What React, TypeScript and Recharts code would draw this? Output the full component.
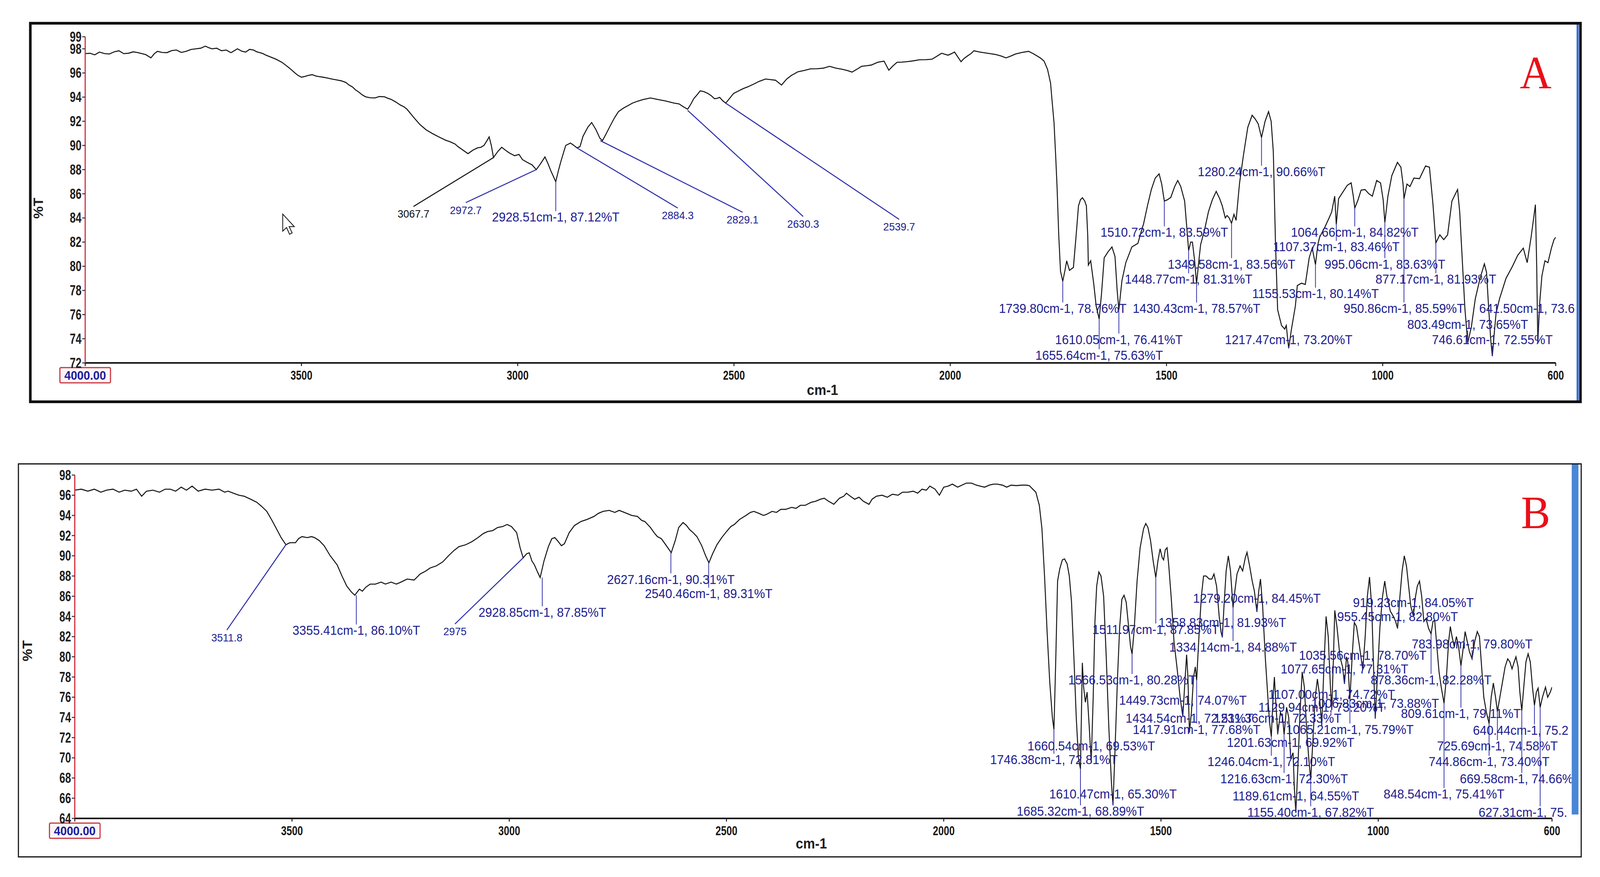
import React from 'react';
import { LineChart, Line, XAxis, YAxis, ReferenceLine, ReferenceDot } from 'recharts';

const SANS = "'Liberation Sans', Arial, Helvetica, sans-serif";
const SERIF = "'Liberation Serif', 'Times New Roman', serif";
const NAVY = '#202090';
const LEAD = '#2c2caa';

const xTicks = [4000, 3500, 3000, 2500, 2000, 1500, 1000, 600];
const yTicksA = [72, 74, 76, 78, 80, 82, 84, 86, 88, 90, 92, 94, 96, 98, 99];
const yTicksB = [64, 66, 68, 70, 72, 74, 76, 78, 80, 82, 84, 86, 88, 90, 92, 94, 96, 98];

// [wavenumber cm-1, %T]
const spectrumA: [number, number][] = [
  [4000, 97.6], [3989, 97.63], [3978, 97.5], [3967, 97.73], [3955, 97.6], [3944, 97.57], [3933, 97.75], [3922, 97.84], [3911, 97.6], [3900, 97.63],
  [3889, 97.75], [3878, 97.68], [3869, 97.6], [3860, 97.52], [3848, 97.25], [3840, 97.6], [3833, 97.79], [3822, 97.7], [3811, 97.68], [3800, 97.85],
  [3789, 97.9], [3778, 97.7], [3767, 97.79], [3755, 97.95], [3744, 98.0], [3733, 98.05], [3722, 98.22], [3715, 98.1], [3707, 98.0], [3696, 98.05],
  [3685, 97.84], [3674, 97.9], [3663, 97.68], [3655, 97.85], [3648, 98.0], [3638, 97.8], [3629, 97.73], [3620, 97.95], [3611, 97.9], [3603, 97.75],
  [3596, 97.68], [3589, 97.6], [3582, 97.47], [3570, 97.3], [3559, 97.14], [3545, 96.88], [3533, 96.55], [3522, 96.23], [3515, 96.0], [3508, 95.8],
  [3500, 95.65], [3493, 95.7], [3484, 95.8], [3475, 95.86], [3467, 95.75], [3460, 95.7], [3450, 95.65], [3441, 95.59], [3430, 95.5], [3419, 95.43],
  [3408, 95.35], [3397, 95.21], [3390, 95.0], [3382, 94.84], [3375, 94.6], [3367, 94.41], [3360, 94.2], [3352, 94.03], [3341, 93.95], [3330, 93.93],
  [3320, 94.05], [3308, 94.03], [3300, 93.9], [3293, 93.82], [3282, 93.6], [3271, 93.34], [3263, 93.2], [3256, 93.0], [3240, 92.3], [3226, 91.73],
  [3212, 91.3], [3197, 90.98], [3182, 90.7], [3167, 90.44], [3156, 90.3], [3145, 90.12], [3138, 89.9], [3130, 89.7], [3122, 89.5], [3115, 89.32],
  [3104, 89.6], [3093, 89.8], [3085, 89.85], [3078, 90.0], [3071, 90.4], [3066, 90.71], [3061, 90.0], [3056, 89.0], [3046, 89.5], [3037, 89.85],
  [3028, 89.6], [3019, 89.37], [3007, 89.15], [2997, 89.26], [2989, 88.83], [2978, 88.6], [2967, 88.4], [2957, 88.0], [2947, 88.5], [2937, 89.05],
  [2930, 88.5], [2923, 87.87], [2912, 87.0], [2906, 87.9], [2900, 88.7], [2889, 90.0], [2878, 90.2], [2870, 90.0], [2863, 89.8], [2856, 89.9],
  [2849, 90.76], [2838, 91.5], [2829, 91.9], [2819, 91.3], [2810, 90.6], [2804, 90.4], [2795, 91.0], [2785, 91.7], [2776, 92.3], [2767, 92.8],
  [2755, 93.1], [2745, 93.3], [2735, 93.5], [2723, 93.66], [2710, 93.8], [2693, 93.93], [2682, 93.85], [2671, 93.77], [2660, 93.7], [2649, 93.6],
  [2638, 93.5], [2627, 93.44], [2617, 93.2], [2607, 93.0], [2600, 93.4], [2593, 93.87], [2585, 94.2], [2578, 94.52], [2569, 94.45], [2560, 94.3],
  [2552, 94.1], [2545, 93.87], [2539, 93.9], [2533, 93.98], [2526, 93.7], [2519, 93.5], [2510, 93.9], [2501, 94.3], [2490, 94.5], [2479, 94.7],
  [2468, 94.85], [2456, 95.05], [2442, 95.3], [2427, 95.5], [2416, 95.45], [2404, 95.4], [2397, 95.2], [2390, 95.0], [2378, 95.5], [2367, 95.8],
  [2352, 96.1], [2338, 96.2], [2323, 96.34], [2308, 96.35], [2293, 96.4], [2279, 96.55], [2264, 96.4], [2249, 96.3], [2238, 96.2], [2227, 96.07],
  [2216, 96.3], [2205, 96.55], [2193, 96.6], [2182, 96.66], [2168, 96.88], [2153, 96.98], [2142, 96.23], [2132, 96.6], [2123, 96.88], [2112, 96.9],
  [2101, 96.93], [2086, 97.0], [2071, 97.09], [2056, 97.1], [2042, 97.14], [2030, 97.4], [2020, 97.63], [2005, 97.47], [1997, 97.6], [1990, 97.73],
  [1982, 97.3], [1975, 96.93], [1968, 97.2], [1960, 97.41], [1952, 97.6], [1945, 97.84], [1934, 97.75], [1923, 97.68], [1908, 97.6], [1894, 97.52],
  [1882, 97.4], [1871, 97.25], [1860, 97.4], [1849, 97.57], [1834, 97.7], [1819, 97.79], [1808, 97.6], [1797, 97.36], [1790, 97.2], [1783, 96.98],
  [1775, 96.3], [1768, 95.16], [1764, 93.5], [1760, 91.9], [1756, 89.0], [1753, 86.6], [1749, 82.5], [1745, 79.6], [1739.8, 78.76], [1735, 79.6],
  [1730.7, 80.45], [1724.3, 79.66], [1719, 79.8], [1715.2, 79.9], [1709, 82.5], [1703.4, 85.0], [1699, 85.5], [1694.3, 85.67], [1689, 85.4], [1685.2, 85.0],
  [1682, 82.5], [1680.6, 80.1], [1675.2, 80.45], [1668, 78.5], [1662.5, 76.7], [1655.64, 75.63], [1650, 77.8], [1644, 80.7], [1635, 81.2], [1626, 81.6],
  [1619, 80.8], [1614, 78.0], [1610.05, 76.41], [1603, 78.8], [1594, 80.3], [1580, 81.6], [1566, 81.9], [1559, 82.8], [1553, 83.5], [1544, 85.0],
  [1535, 86.35], [1526, 87.3], [1517, 87.65], [1511, 86.8], [1505, 85.4], [1498, 85.5], [1490, 85.7], [1481, 86.6], [1474, 87.1], [1467, 86.6],
  [1458, 85.4], [1453, 83.2], [1448.77, 81.31], [1444, 82.0], [1440, 82.0], [1435, 80.5], [1430.43, 78.57], [1425, 80.5], [1421, 81.8], [1412, 83.0],
  [1403, 84.5], [1394, 85.5], [1385, 86.2], [1377, 85.6], [1371, 85.0], [1364, 84.0], [1360, 84.2], [1355, 84.0], [1349.58, 83.56], [1344, 84.3],
  [1339, 83.8], [1331, 86.9], [1322, 89.2], [1312, 91.5], [1302, 92.5], [1295, 92.2], [1288, 91.8], [1280.24, 90.66], [1272, 92.0], [1264, 92.8],
  [1258, 92.0], [1253, 89.5], [1248, 82.0], [1243, 76.4], [1234, 75.1], [1226.6, 74.8], [1223, 75.1], [1217.47, 73.2], [1211, 74.8], [1202, 76.7],
  [1197.5, 78.4], [1188, 78.6], [1179, 78.5], [1170, 80.7], [1163, 81.5], [1155.53, 80.14], [1150, 81.8], [1146, 82.4], [1133, 83.3], [1124, 84.0],
  [1118, 84.5], [1111, 85.8], [1107.37, 83.46], [1102, 85.6], [1091, 86.2], [1082, 86.7], [1073, 86.9], [1068, 85.8], [1064.66, 84.82], [1058, 85.4],
  [1050, 86.3], [1041, 86.35], [1032, 86.0], [1024, 85.8], [1014, 87.1], [1005, 86.9], [999, 85.5], [995.06, 83.63], [988, 85.8], [979, 87.5],
  [966, 88.6], [958, 88.2], [953, 86.8], [950.86, 85.59], [944, 86.8], [937, 86.6], [928, 87.3], [915, 87.25], [901, 88.3], [892, 88.2],
  [884, 85.2], [877.17, 81.93], [868, 82.6], [859, 82.2], [850, 82.6], [840, 85.4], [827, 86.35], [822, 84.5], [818, 81.8], [810, 76.5],
  [803.49, 73.65], [795, 75.0], [786, 77.3], [775, 79.0], [765, 80.2], [760, 79.5], [755, 76.5], [750, 73.8], [746.61, 72.55], [742, 74.5],
  [738, 76.1], [730, 77.3], [715, 79.0], [700, 80.0], [688, 80.9], [675, 81.5], [666, 80.3], [657, 82.4], [651, 84.0], [647, 85.1],
  [644, 80.0], [641.5, 73.6], [637, 77.0], [632, 79.2], [625, 80.45], [618, 80.3], [610, 81.5], [604, 82.2], [600, 82.4],
];

// [wavenumber cm-1, %T]
const spectrumB: [number, number][] = [
  [4000, 96.5], [3985, 96.6], [3970, 96.4], [3955, 96.6], [3940, 96.3], [3927, 96.5], [3912, 96.6], [3898, 96.3], [3885, 96.5], [3870, 96.4],
  [3858, 96.6], [3846, 95.9], [3835, 96.4], [3820, 96.5], [3805, 96.3], [3792, 96.6], [3780, 96.6], [3768, 96.4], [3755, 96.8], [3743, 96.5],
  [3730, 96.9], [3716, 96.4], [3700, 96.6], [3684, 96.5], [3668, 96.6], [3655, 96.3], [3647, 96.4], [3635, 96.2], [3622, 96.0], [3610, 95.9],
  [3595, 95.6], [3581, 95.3], [3570, 94.9], [3558, 94.4], [3546, 93.5], [3536, 92.7], [3525, 91.8], [3514, 91.1], [3505, 91.3], [3492, 91.3],
  [3485, 91.7], [3477, 91.9], [3465, 91.8], [3455, 91.9], [3448, 91.8], [3437, 91.5], [3426, 91.0], [3412, 90.0], [3396, 89.1], [3385, 88.0],
  [3374, 87.0], [3363, 86.4], [3355.4, 86.1], [3345, 86.7], [3338, 86.5], [3330, 86.9], [3320, 87.2], [3308, 87.2], [3295, 87.4], [3285, 87.2],
  [3272, 87.4], [3260, 87.2], [3249, 87.4], [3235, 87.7], [3219, 87.6], [3205, 88.2], [3192, 88.5], [3182, 88.8], [3168, 89.0], [3153, 89.4],
  [3140, 90.0], [3128, 90.5], [3116, 90.9], [3100, 91.1], [3086, 91.4], [3072, 91.8], [3060, 92.2], [3050, 92.4], [3038, 92.5], [3027, 92.8],
  [3015, 92.9], [3005, 93.1], [2995, 92.9], [2983, 92.3], [2975, 90.8], [2968, 89.8], [2960, 90.2], [2954, 90.3], [2948, 89.5], [2942, 89.1],
  [2935, 88.4], [2928.85, 87.85], [2920, 89.5], [2910, 90.9], [2902, 91.7], [2895, 91.8], [2887, 91.4], [2880, 91.0], [2873, 91.2], [2862, 92.3],
  [2850, 93.0], [2835, 93.4], [2821, 93.6], [2805, 93.9], [2795, 94.2], [2784, 94.4], [2770, 94.5], [2757, 94.3], [2747, 94.5], [2735, 94.3],
  [2718, 94.0], [2705, 93.9], [2695, 93.5], [2688, 93.4], [2675, 92.8], [2665, 92.2], [2659, 91.9], [2650, 91.7], [2640, 91.1], [2627.2, 90.31],
  [2618, 91.5], [2610, 92.8], [2600, 93.3], [2592, 93.0], [2585, 92.6], [2577, 92.3], [2568, 91.9], [2557, 91.0], [2548, 90.0], [2540.5, 89.31],
  [2532, 90.2], [2522, 91.1], [2511, 91.8], [2500, 92.4], [2490, 92.9], [2482, 93.1], [2470, 93.6], [2455, 94.0], [2445, 94.3], [2437, 94.4],
  [2425, 94.2], [2415, 94.0], [2408, 94.1], [2395, 94.4], [2385, 94.3], [2375, 94.6], [2364, 94.6], [2350, 94.8], [2340, 94.7], [2330, 95.0],
  [2319, 95.0], [2305, 95.3], [2295, 95.4], [2284, 95.6], [2275, 95.7], [2265, 95.4], [2253, 95.1], [2240, 95.7], [2230, 95.9], [2224, 96.2],
  [2215, 95.9], [2205, 95.6], [2195, 95.8], [2185, 95.4], [2172, 95.1], [2165, 95.6], [2155, 95.9], [2142, 96.0], [2130, 95.8], [2118, 96.1],
  [2105, 96.0], [2095, 96.3], [2083, 96.3], [2070, 96.4], [2060, 96.2], [2050, 96.6], [2040, 96.5], [2032, 96.9], [2020, 96.6], [2010, 96.0],
  [2000, 96.8], [1990, 96.9], [1980, 97.1], [1968, 96.8], [1958, 97.0], [1948, 97.2], [1936, 97.2], [1925, 97.0], [1916, 96.9], [1906, 96.8],
  [1895, 97.0], [1885, 97.1], [1877, 97.1], [1865, 97.0], [1855, 96.8], [1845, 97.0], [1833, 96.95], [1820, 97.0], [1810, 97.0], [1803, 96.95],
  [1795, 96.6], [1788, 96.3], [1780, 95.0], [1774, 92.7], [1768, 88.0], [1762, 82.4], [1756, 77.5], [1750, 74.0], [1746.38, 72.81], [1742, 80.0],
  [1738, 87.5], [1733, 88.7], [1727, 89.6], [1722, 89.7], [1716, 89.2], [1711, 88.0], [1706, 85.5], [1700, 79.5], [1695, 74.0], [1690, 70.0],
  [1685.32, 68.89], [1683, 74.5], [1681, 79.4], [1678, 77.0], [1674, 75.5], [1670, 76.5], [1665, 73.0], [1660.54, 69.53], [1656, 76.0], [1652, 83.5],
  [1648, 87.0], [1643, 88.4], [1638, 88.0], [1632, 86.0], [1626, 80.0], [1620, 73.0], [1614, 67.5], [1610.47, 65.3], [1606, 70.5], [1600, 78.0],
  [1595, 83.0], [1590, 85.7], [1585, 86.1], [1580, 85.4], [1575, 83.2], [1570, 81.0], [1566.53, 80.28], [1562, 82.5], [1555, 87.5], [1548, 90.8],
  [1540, 92.7], [1535, 93.2], [1530, 92.8], [1524, 91.5], [1518, 89.5], [1511.97, 87.85], [1507, 89.5], [1502, 90.7], [1497, 89.8], [1494, 89.6],
  [1490, 90.6], [1486, 90.8], [1482, 89.0], [1476, 85.6], [1470, 81.5], [1463, 78.9], [1456, 76.0], [1449.73, 74.07], [1445, 77.5], [1441, 80.2],
  [1438, 78.0], [1434.54, 72.5], [1430, 74.5], [1425, 78.0], [1421, 79.0], [1417.91, 77.68], [1412, 82.5], [1407, 86.0], [1402, 88.0], [1396, 88.0],
  [1389, 87.7], [1383, 87.7], [1378, 88.2], [1372, 87.0], [1366, 84.0], [1362, 82.5], [1358.83, 81.93], [1355, 85.0], [1350, 88.5], [1345, 90.0],
  [1340, 88.5], [1336, 86.0], [1334.14, 84.88], [1330, 86.5], [1325, 88.2], [1318, 89.0], [1312, 88.5], [1306, 89.8], [1302, 90.35], [1296, 89.0],
  [1290, 87.5], [1285, 86.5], [1279.2, 84.45], [1275, 86.5], [1271, 87.7], [1266, 85.0], [1260, 80.0], [1254, 76.0], [1250, 73.5], [1246.04, 72.1],
  [1242, 76.0], [1239, 78.0], [1235, 75.0], [1231.36, 72.33], [1225, 74.5], [1220, 74.0], [1216.63, 72.3], [1211, 75.0], [1206, 74.0], [1201.63, 69.92],
  [1196, 70.5], [1193, 67.0], [1189.61, 64.55], [1185, 69.0], [1180, 74.5], [1175, 78.5], [1170, 77.0], [1165, 73.0], [1160, 70.0], [1155.4, 67.82],
  [1150, 72.0], [1145, 76.0], [1140, 77.8], [1136, 76.5], [1129.94, 73.2], [1125, 79.0], [1120, 84.0], [1115, 82.0], [1110, 77.0], [1107, 74.72],
  [1103, 80.0], [1100, 84.6], [1095, 83.0], [1088, 80.0], [1082, 79.0], [1077.65, 77.31], [1073, 80.0], [1070, 79.5], [1065.21, 75.79], [1060, 80.0],
  [1055, 83.4], [1050, 83.0], [1043, 81.0], [1035.56, 78.7], [1030, 82.0], [1025, 86.0], [1020, 87.9], [1015, 85.0], [1010, 78.0], [1006.83, 73.88],
  [1002, 78.0], [996, 83.0], [990, 86.0], [985, 87.5], [980, 86.0], [972, 84.5], [965, 84.0], [960, 83.5], [955.45, 82.8], [950, 86.0],
  [945, 88.5], [940, 90.0], [935, 89.0], [930, 87.0], [925, 85.0], [919.23, 84.05], [914, 86.0], [910, 87.0], [905, 87.5], [900, 86.0],
  [895, 83.5], [890, 83.8], [884, 82.8], [878.36, 82.28], [874, 83.5], [870, 83.6], [865, 81.0], [860, 78.5], [855, 77.0], [848.54, 75.41],
  [843, 78.0], [838, 81.5], [834, 83.0], [830, 82.0], [825, 81.0], [820, 82.0], [815, 81.0], [809.61, 79.11], [804, 81.0], [800, 82.5],
  [795, 81.5], [790, 80.5], [783.98, 79.8], [778, 81.5], [772, 82.5], [767, 82.0], [762, 79.0], [757, 76.0], [751, 74.5], [744.86, 73.4],
  [740, 76.0], [735, 77.4], [730, 76.0], [725.69, 74.58], [720, 76.0], [714, 77.5], [708, 79.0], [702, 79.8], [697, 79.5], [692, 78.8],
  [687, 79.5], [683, 80.0], [678, 79.0], [674, 76.5], [669.58, 74.66], [665, 77.0], [660, 79.5], [655, 80.3], [650, 79.5], [645, 77.0],
  [640.44, 75.2], [636, 76.5], [632, 76.9], [627.31, 75.0], [622, 76.0], [615, 77.0], [610, 76.0], [604, 76.5], [600, 77.0],
];

// vertical peak call-outs: [text, wavenumber, %T on curve, %T of label centre]
const calloutsA: [string, number, number, number][] = [
  ['2928.51cm-1, 87.12%T', 2912, 87.0, 84.06],
  ['1280.24cm-1, 90.66%T', 1280.24, 90.66, 87.82],
  ['1510.72cm-1, 83.59%T', 1505, 85.4, 82.8],
  ['1064.66cm-1, 84.82%T', 1064.66, 84.82, 82.8],
  ['1107.37cm-1, 83.46%T', 1107.37, 83.46, 81.6],
  ['1349.58cm-1, 83.56%T', 1349.58, 83.56, 80.17],
  ['995.06cm-1, 83.63%T', 995.06, 83.63, 80.17],
  ['1448.77cm-1, 81.31%T', 1448.77, 81.31, 78.92],
  ['877.17cm-1, 81.93%T', 877.17, 81.93, 78.92],
  ['1155.53cm-1, 80.14%T', 1155.53, 80.14, 77.73],
  ['1739.80cm-1, 78.76%T', 1739.8, 78.76, 76.5],
  ['1430.43cm-1, 78.57%T', 1430.43, 78.57, 76.5],
  ['950.86cm-1, 85.59%T', 950.86, 85.59, 76.5],
  ['803.49cm-1, 73.65%T', 803.49, 73.65, 75.18],
  ['1610.05cm-1, 76.41%T', 1610.05, 76.41, 73.93],
  ['1217.47cm-1, 73.20%T', 1217.47, 73.2, 73.93],
  ['746.61cm-1, 72.55%T', 746.61, 72.55, 73.93],
  ['1655.64cm-1, 75.63%T', 1655.64, 75.63, 72.63],
];
// call-outs cut by the frame: [text, wavenumber, %T on curve, %T of label, wavenumber of label start]
const edgeCalloutsA: [string, number, number, number, number][] = [
  ['641.50cm-1, 73.6', 641.5, 73.6, 76.5, 777],
];
// slanted call-outs: [text, wavenumber on curve, %T on curve, wavenumber of label, %T of label]
const slantsA: [string, number, number, number, number][] = [
  ['2972.7', 2957, 88.0, 3120, 84.65],
  ['2884.3', 2863, 89.8, 2630, 84.2],
  ['2829.1', 2809, 90.4, 2480, 83.85],
  ['2630.3', 2607, 92.9, 2340, 83.5],
  ['2539.7', 2519, 93.5, 2118, 83.26],
];
const blackSlantsA: [string, number, number, number, number][] = [
  ['3067.7', 3056, 89.0, 3241, 84.33],
];

const calloutsB: [string, number, number, number][] = [
  ['3355.41cm-1, 86.10%T', 3352, 86.1, 82.6],
  ['2928.85cm-1, 87.85%T', 2924, 87.85, 84.4],
  ['2627.16cm-1, 90.31%T', 2628, 90.31, 87.66],
  ['2540.46cm-1, 89.31%T', 2541, 89.31, 86.24],
  ['1746.38cm-1, 72.81%T', 1746.38, 72.81, 69.8],
  ['1685.32cm-1, 68.89%T', 1685.32, 68.89, 64.7],
  ['1660.54cm-1, 69.53%T', 1660.54, 69.53, 71.15],
  ['1610.47cm-1, 65.30%T', 1610.47, 65.3, 66.4],
  ['1566.53cm-1, 80.28%T', 1566.53, 80.28, 77.7],
  ['1511.97cm-1, 87.85%T', 1511.97, 87.85, 82.7],
  ['1449.73cm-1, 74.07%T', 1449.73, 74.07, 75.7],
  ['1434.54cm-1, 72.51%T', 1434.54, 72.5, 73.9],
  ['1417.91cm-1, 77.68%T', 1417.91, 77.68, 72.8],
  ['1358.83cm-1, 81.93%T', 1358.83, 81.93, 83.4],
  ['1334.14cm-1, 84.88%T', 1334.14, 84.88, 80.96],
  ['1279.20cm-1, 84.45%T', 1279.2, 84.45, 85.8],
  ['1246.04cm-1, 72.10%T', 1246.04, 72.1, 69.6],
  ['1231.36cm-1, 72.33%T', 1231.36, 72.33, 73.9],
  ['1216.63cm-1, 72.30%T', 1216.63, 72.3, 67.9],
  ['1201.63cm-1, 69.92%T', 1201.63, 69.92, 71.5],
  ['1189.61cm-1, 64.55%T', 1189.61, 64.55, 66.2],
  ['1155.40cm-1, 67.82%T', 1155.4, 67.82, 64.6],
  ['1129.94cm-1, 73.20%T', 1129.94, 73.2, 75.0],
  ['1107.00cm-1, 74.72%T', 1107.0, 74.72, 76.26],
  ['1077.65cm-1, 77.31%T', 1077.65, 77.31, 78.8],
  ['1065.21cm-1, 75.79%T', 1065.21, 75.79, 72.8],
  ['1035.56cm-1, 78.70%T', 1035.56, 78.7, 80.14],
  ['1006.83cm-1, 73.88%T', 1006.83, 73.88, 75.4],
  ['955.45cm-1, 82.80%T', 955.45, 82.8, 83.98],
  ['919.23cm-1, 84.05%T', 919.23, 84.05, 85.36],
  ['878.36cm-1, 82.28%T', 878.36, 82.28, 77.7],
  ['848.54cm-1, 75.41%T', 848.54, 75.41, 66.4],
  ['809.61cm-1, 79.11%T', 809.61, 79.11, 74.37],
  ['783.98cm-1, 79.80%T', 783.98, 79.8, 81.25],
  ['744.86cm-1, 73.40%T', 744.86, 73.4, 69.6],
  ['725.69cm-1, 74.58%T', 725.69, 74.58, 71.15],
];
const edgeCalloutsB: [string, number, number, number, number][] = [
  ['669.58cm-1, 74.66%', 669.58, 74.66, 67.9, 812],
  ['640.44cm-1, 75.2', 640.44, 75.2, 72.7, 782],
  ['627.31cm-1, 75.', 627.31, 75.0, 64.6, 769],
];
const slantsB: [string, number, number, number, number][] = [
  ['3511.8', 3514, 91.1, 3650, 81.9],
  ['2975', 2968, 89.8, 3125, 82.5],
];

const textShape = (text: string, size: number, color: string, anchor: string) => (p: any) => (
  <text x={p.cx} y={p.cy} textAnchor={anchor} dominantBaseline="central" fontFamily={SANS}
    fontSize={size} fill={color}>{text}</text>
);

const XTick = (props: any) => {
  const { x, y, payload } = props;
  if (payload.value === 4000) {
    return (
      <g>
        <rect x={x - 68} y={y + 4} width={136} height={39} fill="#fbf4f5" stroke="#c9343e" strokeWidth={3} rx={3} />
        <text x={x} y={y + 24} textAnchor="middle" dominantBaseline="central" fontFamily={SANS}
          fontWeight="bold" fontSize={31} fill="#1c1c9c">4000.00</text>
      </g>
    );
  }
  return (
    <text transform={`translate(${x},${y + 23}) scale(0.8,1)`} textAnchor="middle" dominantBaseline="central"
      fontFamily={SANS} fontWeight="bold" fontSize={33} fill="#1a1a1a">{payload.value}</text>
  );
};

const YTick = (props: any) => {
  const { x, y, payload } = props;
  return (
    <text transform={`translate(${x},${y}) scale(0.76,1)`} textAnchor="end" dominantBaseline="central"
      fontFamily={SANS} fontWeight="bold" fontSize={37} fill="#1e1e1e">{payload.value}</text>
  );
};

interface PanelProps {
  spectrum: [number, number][];
  yDomain: [number, number];
  yTicks: number[];
  callouts: [string, number, number, number][];
  edgeCallouts: [string, number, number, number, number][];
  slants: [string, number, number, number, number][];
  blackSlants: [string, number, number, number, number][];
  width: number;
  height: number;
  margin: { top: number; right: number; left: number; bottom: number };
  yAxisWidth: number;
  xAxisHeight: number;
  labelSize: number;
  smallSize: number;
  half: number;
  slantGap: number;
}

function Panel(p: PanelProps) {
  const data = p.spectrum.map(([wn, t]) => ({ wn, t }));
  const vEnd = (t: number, lt: number) => (lt < t ? lt + p.half : lt - p.half);
  return (
    <LineChart width={p.width} height={p.height} data={data} margin={p.margin}>
      <XAxis dataKey="wn" type="number" domain={[600, 4000]} reversed ticks={xTicks} interval={0}
        allowDataOverflow height={p.xAxisHeight} tickSize={8} tickMargin={0}
        axisLine={{ stroke: '#111', strokeWidth: 4 }} tickLine={{ stroke: '#111', strokeWidth: 2.5 }} tick={<XTick />} />
      <YAxis type="number" domain={p.yDomain} ticks={p.yTicks} interval={0} allowDataOverflow width={p.yAxisWidth}
        tickSize={8} tickMargin={2} axisLine={{ stroke: '#d02a36', strokeWidth: 3 }}
        tickLine={{ stroke: '#333', strokeWidth: 2.5 }} tick={<YTick />} />
      <Line dataKey="t" type="linear" stroke="#141414" strokeWidth={2.6} dot={false} activeDot={false} isAnimationActive={false} />
      {p.callouts.map(([txt, w, t, lt]) => (
        <ReferenceLine key={'l' + txt} ifOverflow="visible" stroke={LEAD} strokeWidth={2}
          segment={[{ x: w, y: t }, { x: w, y: vEnd(t, lt) }]} />
      ))}
      {p.edgeCallouts.map(([txt, w, t, lt]) => (
        <ReferenceLine key={'e' + txt} ifOverflow="visible" stroke={LEAD} strokeWidth={2}
          segment={[{ x: w, y: t }, { x: w, y: vEnd(t, lt) }]} />
      ))}
      {p.slants.map(([txt, w, t, lw, lt]) => (
        <ReferenceLine key={'s' + txt} ifOverflow="visible" stroke={LEAD} strokeWidth={2.6}
          segment={[{ x: w, y: t }, { x: lw, y: lt + p.slantGap }]} />
      ))}
      {p.blackSlants.map(([txt, w, t, lw, lt]) => (
        <ReferenceLine key={'k' + txt} ifOverflow="visible" stroke="#111" strokeWidth={2.6}
          segment={[{ x: w, y: t }, { x: lw, y: lt + p.slantGap }]} />
      ))}
      {p.callouts.map(([txt, w, , lt]) => (
        <ReferenceDot key={'t' + txt} x={w} y={lt} r={0} ifOverflow="visible"
          shape={textShape(txt, p.labelSize, NAVY, 'middle')} />
      ))}
      {p.edgeCallouts.map(([txt, , , lt, lw]) => (
        <ReferenceDot key={'u' + txt} x={lw} y={lt} r={0} ifOverflow="visible"
          shape={textShape(txt, p.labelSize, NAVY, 'start')} />
      ))}
      {p.slants.map(([txt, , , lw, lt]) => (
        <ReferenceDot key={'v' + txt} x={lw} y={lt} r={0} ifOverflow="visible"
          shape={textShape(txt, p.smallSize, NAVY, 'middle')} />
      ))}
      {p.blackSlants.map(([txt, , , lw, lt]) => (
        <ReferenceDot key={'w' + txt} x={lw} y={lt} r={0} ifOverflow="visible"
          shape={textShape(txt, p.smallSize, '#111', 'middle')} />
      ))}
    </LineChart>
  );
}

export default function App() {
  const vw = typeof window !== 'undefined' && window.innerWidth ? window.innerWidth : 4301;
  const sx = vw < 4301 ? vw / 4301 : 1;
  return (
    <div style={{ position: 'absolute', left: 0, top: 0, width: Math.min(vw, 4301), height: 2245, overflow: 'hidden', background: '#fff' }}>
      <div style={{ position: 'absolute', left: 0, top: 0, width: 4301, height: 2245, background: '#ffffff', transform: `scale(${sx},1)`, transformOrigin: '0 0' }}>
        {/* Panel A frame */}
        <div style={{ position: 'absolute', left: 78, top: 56, width: 4174, height: 976, border: '7px solid #111', boxSizing: 'border-box', background: '#fff' }}>
          <div style={{ position: 'absolute', left: 0, top: 0 }}>
            <Panel spectrum={spectrumA} yDomain={[72, 99]} yTicks={yTicksA} callouts={calloutsA} edgeCallouts={edgeCalloutsA}
              slants={slantsA} blackSlants={blackSlantsA} width={4153} height={962}
              margin={{ top: 31, right: 56, left: 0, bottom: 0 }} yAxisWidth={144} xAxisHeight={96}
              labelSize={33} smallSize={28} half={0.5} slantGap={0.62} />
          </div>
          <div style={{ position: 'absolute', left: 4153, top: 0, width: 6, height: 962, background: '#3d6fd2' }} />
        </div>
        {/* Panel B frame */}
        <div style={{ position: 'absolute', left: 48, top: 1186, width: 4204, height: 1009, border: '3px solid #111', boxSizing: 'border-box', background: '#fff' }}>
          <div style={{ position: 'absolute', left: 0, top: 0 }}>
            <Panel spectrum={spectrumB} yDomain={[64, 98]} yTicks={yTicksB} callouts={calloutsB} edgeCallouts={edgeCalloutsB}
              slants={slantsB} blackSlants={[]} width={4174} height={1003}
              margin={{ top: 27, right: 53, left: 0, bottom: 0 }} yAxisWidth={150} xAxisHeight={97}
              labelSize={33} smallSize={28} half={0.6} slantGap={0.75} />
          </div>
          <div style={{ position: 'absolute', left: 4174, top: 0, width: 18, height: 896, background: '#4a86d6' }} />
        </div>
        {/* titles and axis names */}
        <svg width={4301} height={2245} style={{ position: 'absolute', left: 0, top: 0, pointerEvents: 'none' }}>
          <text x={4128} y={226} textAnchor="middle" fontFamily={SERIF} fontSize={118} fill="#e8101a">A</text>
          <text x={4128} y={1352} textAnchor="middle" fontFamily={SERIF} fontSize={118} fill="#e8101a">B</text>
          <text x={2211} y={998} textAnchor="middle" dominantBaseline="central" fontFamily={SANS} fontWeight="bold" fontSize={36} fill="#1e1e1e">cm-1</text>
          <text x={2181} y={2159} textAnchor="middle" dominantBaseline="central" fontFamily={SANS} fontWeight="bold" fontSize={36} fill="#1e1e1e">cm-1</text>
          <text transform="translate(103,533) rotate(-90)" textAnchor="middle" dominantBaseline="central" fontFamily={SANS} fontWeight="bold" fontSize={36} fill="#1e1e1e">%T</text>
          <text transform="translate(73,1666) rotate(-90)" textAnchor="middle" dominantBaseline="central" fontFamily={SANS} fontWeight="bold" fontSize={36} fill="#1e1e1e">%T</text>
          <path transform="translate(760,548) scale(1.15)" d="M0 0 L0 38 L9 30 L16 45 L22 42 L15 28 L27 28 Z" fill="#fff" stroke="#222" strokeWidth={2} />
        </svg>
      </div>
    </div>
  );
}
